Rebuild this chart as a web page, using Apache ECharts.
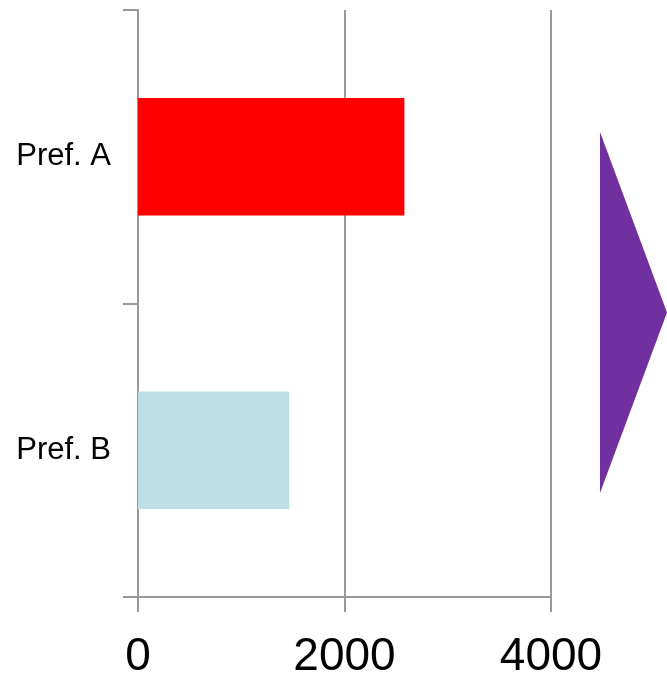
<!DOCTYPE html>
<html>
<head>
<meta charset="utf-8">
<script src="https://cdn.jsdelivr.net/npm/echarts@6/dist/echarts.min.js"></script>
<style>
  html, body { margin: 0; padding: 0; background: #ffffff; }
  #chart { width: 667px; height: 676px; }
</style>
</head>
<body>
<div id="chart"></div>
<script>
// Prefecture totals
const categories = ['Pref. A', 'Pref. B'];
const values = [2580, 1465];
const barColors = ['#ff0000', '#bce0e3'];
const xTicks = [0, 2000, 4000];

const axisGray = '#999999';

const chart = echarts.init(document.getElementById('chart'), null, { renderer: 'canvas' });

chart.setOption({
  animation: false,
  backgroundColor: '#ffffff',
  grid: {
    left: 138, right: 116, top: 10, bottom: 79,
    containLabel: false,
    outerBoundsMode: 'none'
  },
  xAxis: {
    type: 'value',
    min: xTicks[0],
    max: xTicks[xTicks.length - 1],
    interval: xTicks[1] - xTicks[0],
    axisLine: { show: true, lineStyle: { color: axisGray, width: 2 } },
    axisTick: { show: true, length: 15, lineStyle: { color: axisGray, width: 2 } },
    splitLine: { show: true, lineStyle: { color: axisGray, width: 2 } },
    axisLabel: {
      margin: 37,
      fontSize: 46,
      fontFamily: 'Liberation Sans, Arial, sans-serif',
      color: '#000000',
      formatter: v => String(v)
    }
  },
  yAxis: {
    type: 'category',
    data: categories,
    inverse: true,
    axisLine: { show: true, lineStyle: { color: axisGray, width: 2 } },
    axisTick: { show: true, length: 15, lineStyle: { color: axisGray, width: 2 } },
    splitLine: { show: false },
    axisLabel: {
      margin: 27,
      fontSize: 31,
      fontFamily: 'Liberation Sans, Arial, sans-serif',
      color: '#000000'
    }
  },
  series: [{
    type: 'bar',
    barWidth: '40%',
    data: values.map((v, i) => ({ value: v, itemStyle: { color: barColors[i] } })),
    silent: true
  }],
  graphic: [{
    type: 'polygon',
    shape: { points: [[600, 132], [667, 312.5], [600, 493]] },
    style: { fill: '#7030a0' },
    silent: true
  }]
});
</script>
</body>
</html>
